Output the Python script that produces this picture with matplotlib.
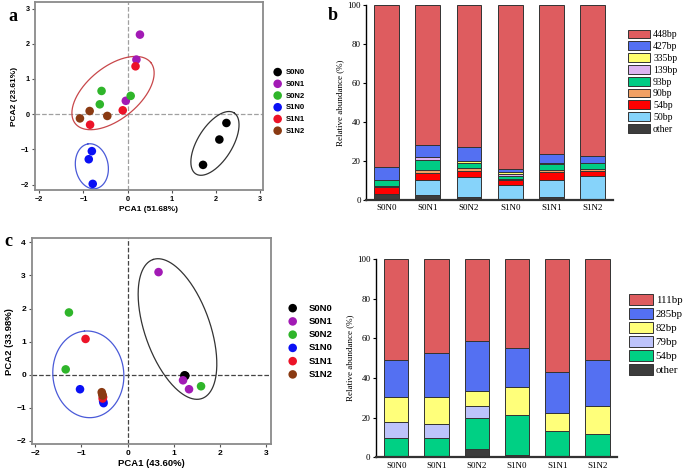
import numpy as np
import matplotlib
matplotlib.use('Agg')
import matplotlib.pyplot as plt

# ---- data ----
groups = ['S0N0', 'S0N1', 'S0N2', 'S1N0', 'S1N1', 'S1N2']
grp_colors = ['#000000', '#A21AB5', '#2FB52A', '#0A10F5', '#EC1328', '#8A3A12']

# PCA (panel a), 3 replicates per group
pca_a_x = {'S0N0': [2.24, 2.08, 1.71], 'S0N1': [0.28, 0.20, -0.04], 'S0N2': [-0.59, -0.63, 0.07],
           'S1N0': [-0.81, -0.88, -0.79], 'S1N1': [0.18, -0.11, -0.85], 'S1N2': [-0.86, -1.08, -0.46]}
pca_a_y = {'S0N0': [-0.25, -0.72, -1.44], 'S0N1': [2.26, 1.55, 0.38], 'S0N2': [0.66, 0.28, 0.52],
           'S1N0': [-1.05, -1.28, -1.98], 'S1N1': [1.36, 0.11, -0.30], 'S1N2': [0.09, -0.12, -0.05]}

# PCA (panel c)
pca_c_x = {'S0N0': [1.25, 1.23, 1.24], 'S0N1': [0.67, 1.20, 1.33], 'S0N2': [-1.27, -1.34, 1.59],
           'S1N0': [-1.03, -0.52, -0.53], 'S1N1': [-0.91, -0.53, -0.54], 'S1N2': [-0.56, -0.54, -0.55]}
pca_c_y = {'S0N0': [-0.03, -0.02, -0.04], 'S0N1': [3.10, -0.17, -0.44], 'S0N2': [1.88, 0.16, -0.35],
           'S1N0': [-0.44, -0.86, -0.80], 'S1N1': [1.08, -0.68, -0.72], 'S1N2': [-0.53, -0.63, -0.58]}

# panel b, stacked from bottom
b_labels = ['other', '50bp', '54bp', '90bp', '93bp', '139bp', '335bp', '427bp', '448bp']
b_colors = ['#3C3C3C', '#86D3FA', '#FF0000', '#F2A064', '#00CC84', '#DDB4F2', '#FFFF6E', '#5470F2', '#DE5C5F']
b_vals = [
    [3.1, 2.7, 1.6, 0.6, 1.8, 0.6],      # other
    [0.0, 7.6, 10.2, 7.4, 8.7, 11.6],    # 50bp
    [3.6, 3.7, 3.2, 2.4, 4.1, 2.8],      # 54bp
    [0.8, 1.5, 1.3, 0.6, 0.8, 0.9],      # 90bp
    [2.9, 5.0, 2.7, 1.5, 3.3, 2.9],      # 93bp
    [0.0, 1.8, 0.3, 0.8, 0.3, 0.3],      # 139bp
    [0.0, 0.0, 0.8, 0.9, 0.0, 0.0],      # 335bp
    [6.5, 6.2, 6.9, 1.8, 4.5, 3.6],      # 427bp
    [83.1, 71.5, 73.0, 84.0, 76.5, 77.3] # 448bp
]

# panel d, stacked from bottom
d_labels = ['other', '54bp', '79bp', '82bp', '285bp', '111bp']
d_colors = ['#3C3C3C', '#00D084', '#BDC3FB', '#FFFF7A', '#5470F2', '#DE5C5F']
d_vals = [
    [0.0, 0.0, 4.0, 1.0, 0.0, 0.0],
    [9.6, 9.6, 15.7, 20.4, 13.1, 12.0],
    [8.4, 7.4, 6.2, 0.0, 0.0, 0.0],
    [12.6, 13.3, 7.6, 14.3, 9.5, 14.1],
    [18.6, 22.2, 25.4, 19.7, 20.3, 22.9],
    [50.8, 47.5, 41.1, 44.6, 57.1, 51.0]
]


def draw_ellipse(ax, cx, cy, a, b, ang, yscale, color):
    t = np.linspace(0, 2 * np.pi, 300)
    r = np.deg2rad(ang)
    dx = a * np.cos(t) * np.cos(r) - b * np.sin(t) * np.sin(r)
    dy = a * np.cos(t) * np.sin(r) + b * np.sin(t) * np.cos(r)
    ax.plot(cx + dx, cy + dy * yscale, color=color, lw=0.9, zorder=2)


def pca_panel(ax, xs, ys, xlab, ylab, fs, line_color):
    ax.axhline(0, color=line_color, ls='--', lw=0.9, zorder=1)
    ax.axvline(0, color=line_color, ls='--', lw=0.9, zorder=1)
    for g, c in zip(groups, grp_colors):
        ax.scatter(xs[g], ys[g], s=38, color=c, label=g, zorder=3, edgecolors='none')
    for s in ax.spines.values():
        s.set_color('#8a8a8a')
        s.set_linewidth(1.3)
    ax.set_xticks([-2, -1, 0, 1, 2, 3])
    ax.tick_params(length=2.5, width=0.8, color='#555555', labelsize=fs, pad=1.5)
    for lab in ax.get_xticklabels() + ax.get_yticklabels():
        lab.set_fontweight('bold')
    ax.set_xlabel(xlab, fontsize=fs + 0.8, fontweight='bold', labelpad=2)
    ax.set_ylabel(ylab, fontsize=fs + 0.8, fontweight='bold', labelpad=2)


def bar_panel(ax, vals, labels, colors, fs):
    x = np.arange(len(groups))
    bottom = np.zeros(len(groups))
    for v, lab, c in zip(vals, labels, colors):
        v = np.array(v)
        ax.bar(x, v, 0.6, bottom=bottom, color=c, edgecolor='#333333', linewidth=0.7, label=lab)
        bottom += v
    ax.set_ylim(0, 100)
    ax.set_yticks([0, 20, 40, 60, 80, 100])
    ax.set_xticks(x)
    ax.set_xticklabels(groups)
    for s in ['top', 'right']:
        ax.spines[s].set_visible(False)
    ax.spines['left'].set_linewidth(1.0)
    ax.spines['bottom'].set_linewidth(1.6)
    ax.spines['bottom'].set_color('#333333')
    ax.tick_params(axis='y', length=2.5, width=0.8, labelsize=fs, pad=1.5)
    ax.tick_params(axis='x', length=0, labelsize=fs, pad=3)
    ax.set_ylabel('Relative abundance (%)', fontsize=fs, labelpad=2)


plt.rcParams['font.family'] = ['Liberation Sans', 'DejaVu Sans']
fig = plt.figure(figsize=(6.85, 4.72), dpi=100)

# ---- panel a ----
ax_a = fig.add_axes([0.051, 0.597, 0.333, 0.399])
pca_panel(ax_a, pca_a_x, pca_a_y, 'PCA1 (51.68%)', 'PCA2 (23.61%)', 5.2, '#a0a0a0')
draw_ellipse(ax_a, -0.33, 0.60, 1.10, 0.59, 39, 1.254, '#C8474A')
draw_ellipse(ax_a, 1.98, -0.83, 0.816, 0.393, 58, 1.254, '#333333')
draw_ellipse(ax_a, -0.81, -1.48, 0.514, 0.37, 100, 1.254, '#4A5AD8')
ax_a.set_xlim(-2.1, 3.07)
ax_a.set_ylim(-2.16, 3.19)
ax_a.set_yticks([-2, -1, 0, 1, 2, 3])
ax_a.legend(loc='center left', bbox_to_anchor=(1.03, 0.47), frameon=False,
            prop={'weight': 'bold', 'size': 5.6}, handlelength=1.0, handletextpad=0.6,
            labelspacing=0.55, borderpad=0, scatterpoints=1)

# ---- panel c ----
ax_c = fig.add_axes([0.046, 0.059, 0.350, 0.436])
pca_panel(ax_c, pca_c_x, pca_c_y, 'PCA1 (43.60%)', 'PCA2 (33.98%)', 6.0, '#444444')
draw_ellipse(ax_c, -0.85, 0.01, 0.956, 0.768, 95, 1.372, '#4A5AD8')
draw_ellipse(ax_c, 1.08, 1.38, 1.62, 0.707, 109, 1.372, '#333333')
ax_c.set_xlim(-2.08, 3.11)
ax_c.set_ylim(-2.1, 4.12)
ax_c.set_yticks([-2, -1, 0, 1, 2, 3, 4])
ax_c.legend(loc='center left', bbox_to_anchor=(1.05, 0.50), frameon=False,
            prop={'weight': 'bold', 'size': 6.8}, handlelength=1.0, handletextpad=1.2,
            labelspacing=0.45, borderpad=0, scatterpoints=1)

# ---- panel b ----
plt.rcParams['font.family'] = ['Liberation Serif', 'DejaVu Serif']
ax_b = fig.add_axes([0.535, 0.576, 0.360, 0.413])
bar_panel(ax_b, b_vals, b_labels, b_colors, 6.5)
ax_b.set_xlim(-0.49, 5.5)
h, l = ax_b.get_legend_handles_labels()
ax_b.legend(h[::-1], l[::-1], loc='upper left', bbox_to_anchor=(1.04, 0.90), frameon=False,
            fontsize=7, handlelength=2.3, handleheight=1.0, handletextpad=0.3,
            labelspacing=0.22, borderpad=0)

# ---- panel d ----
ax_d = fig.add_axes([0.549, 0.031, 0.351, 0.420])
bar_panel(ax_d, d_vals, d_labels, d_colors, 6.5)
ax_d.set_xlim(-0.5, 5.47)
h, l = ax_d.get_legend_handles_labels()
ax_d.legend(h[::-1], l[::-1], loc='upper left', bbox_to_anchor=(1.03, 0.85), frameon=False,
            fontsize=7.8, handlelength=2.2, handleheight=1.15, handletextpad=0.25,
            labelspacing=0.27, borderpad=0)

# panel letters
fig.text(0.012, 0.955, 'a', fontsize=13, fontweight='bold', family='Liberation Serif')
fig.text(0.478, 0.957, 'b', fontsize=13, fontweight='bold', family='Liberation Serif')
fig.text(0.006, 0.478, 'c', fontsize=13, fontweight='bold', family='Liberation Serif')

fig.savefig('out.png', dpi=100)
